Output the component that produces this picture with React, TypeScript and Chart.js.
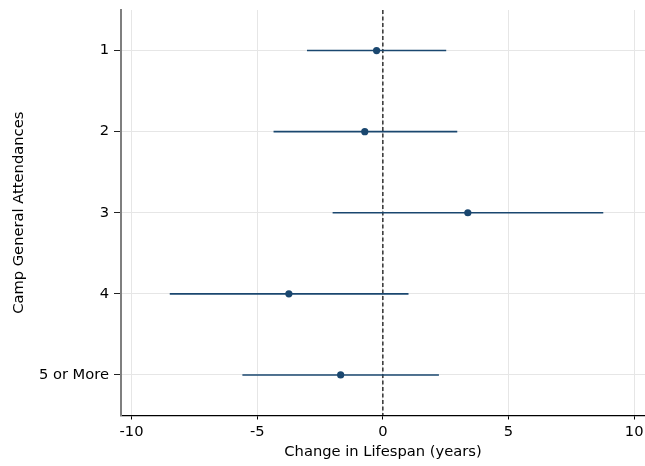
import React, { useEffect, useRef } from "react";
import { Chart, registerables } from "chart.js";

Chart.register(...registerables);

const categories = ["1", "2", "3", "4", "5 or More"];
const estimates = [-0.25, -0.72, 3.38, -3.74, -1.68];
const lowerCI = [-3.02, -4.35, -2.0, -8.48, -5.59];
const upperCI = [2.52, 2.96, 8.77, 1.02, 2.23];
const xTickValues = [-10, -5, 0, 5, 10];

const NAVY = "#1a476f";
const FONT = "'DejaVu Sans', sans-serif";

export default function App() {
  const ref = useRef<HTMLCanvasElement | null>(null);

  useEffect(() => {
    document.body.style.margin = "0";
    const canvas = ref.current;
    if (!canvas) return;

    const ciSets = categories.map((c, i) => ({
      type: "scatter" as const,
      label: "CI " + c,
      data: [
        { x: lowerCI[i], y: i },
        { x: upperCI[i], y: i },
      ],
      showLine: true,
      borderColor: NAVY,
      borderWidth: 1.6,
      pointRadius: 0,
      pointHoverRadius: 0,
      order: 2,
    }));

    const chart = new Chart(canvas, {
      type: "scatter",
      data: {
        datasets: [
          {
            label: "zero",
            data: [
              { x: 0, y: -0.5 },
              { x: 0, y: 4.5 },
            ],
            showLine: true,
            borderColor: "#000000",
            borderWidth: 1.2,
            borderDash: [4, 2.5],
            pointRadius: 0,
            order: 3,
          } as any,
          ...ciSets,
          {
            label: "Estimate",
            data: estimates.map((e, i) => ({ x: e, y: i })),
            backgroundColor: NAVY,
            borderColor: NAVY,
            pointRadius: 3.6,
            borderWidth: 0,
            order: 1,
          },
        ],
      },
      options: {
        animation: false,
        responsive: false,
        maintainAspectRatio: false,
        layout: { autoPadding: false, padding: { top: 10, right: 0, left: 0, bottom: 0 } },
        plugins: {
          legend: { display: false },
          tooltip: { enabled: false },
        },
        scales: {
          x: {
            type: "linear",
            min: -10.42,
            max: 10.43,
            afterBuildTicks: (scale: any) => {
              scale.ticks = xTickValues.map((v) => ({ value: v }));
            },
            afterFit: (scale: any) => {
              scale.height = 50.5;
              scale.paddingLeft = 0;
              scale.paddingRight = 0;
            },
            grid: {
              color: "#e6e6e6",
              lineWidth: 1,
              tickColor: "#000000",
              tickLength: 4,
              drawTicks: true,
            },
            border: { color: "#000000", width: 1.3 },
            ticks: {
              color: "#000000",
              font: { family: FONT, size: 14.7 },
              padding: 4,
              maxRotation: 0,
              autoSkip: false,
              callback: (v: any) => String(v),
            },
            title: {
              display: true,
              text: "Change in Lifespan (years)",
              color: "#000000",
              font: { family: FONT, size: 14.7 },
              padding: { top: 0, bottom: 5 },
            },
          },
          y: {
            type: "linear",
            reverse: true,
            min: -0.5,
            max: 4.5,
            afterBuildTicks: (scale: any) => {
              scale.ticks = categories.map((_, i) => ({ value: i }));
            },
            afterFit: (scale: any) => {
              scale.width = 121;
              scale.paddingTop = 0;
              scale.paddingBottom = 0;
            },
            grid: {
              color: "#e6e6e6",
              lineWidth: 1,
              tickColor: "#222222",
              tickLength: 7,
            },
            border: { color: "#7f7f7f", width: 2 },
            ticks: {
              color: "#000000",
              font: { family: FONT, size: 14.7 },
              padding: 5,
              autoSkip: false,
              callback: (v: any) => categories[v as number] ?? "",
            },
            title: {
              display: true,
              text: "Camp General Attendances",
              color: "#000000",
              font: { family: FONT, size: 14.7 },
              padding: { top: 10, bottom: 0 },
            },
          },
        },
      },
    } as any);

    return () => chart.destroy();
  }, []);

  return (
    <div style={{ width: 645, height: 466, background: "#ffffff" }}>
      <canvas ref={ref} width={645} height={466} style={{ display: "block" }} />
    </div>
  );
}
